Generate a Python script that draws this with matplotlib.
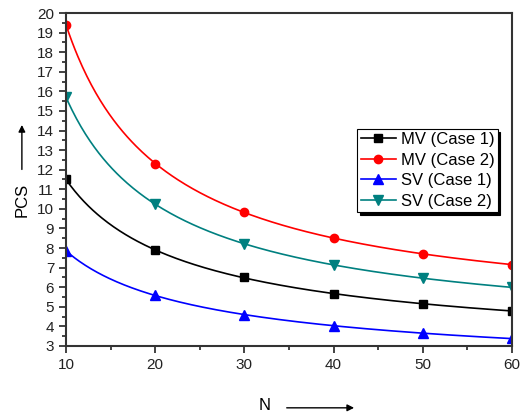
import numpy as np
import matplotlib
matplotlib.use("Agg")
import matplotlib.pyplot as plt
from matplotlib.ticker import MultipleLocator

plt.rcParams['font.family'] = ['Liberation Sans', 'DejaVu Sans']

N = [10, 20, 30, 40, 50, 60]
mv_case1 = [11.5, 7.9, 6.5, 5.65, 5.15, 4.8]
mv_case2 = [19.4, 12.3, 9.85, 8.5, 7.7, 7.15]
sv_case1 = [7.85, 5.6, 4.6, 4.0, 3.65, 3.4]
sv_case2 = [15.7, 10.25, 8.2, 7.15, 6.45, 6.0]
labels = ["MV (Case 1)", "MV (Case 2)", "SV (Case 1)", "SV (Case 2)"]
colors = ["black", "#FF0000", "#0000FF", "#008080"]
markers = ["s", "o", "^", "v"]
msizes = [5.5, 6, 7, 7]


def power_fit(x, y):
    """Least-squares fit of y = y0 + a * x**b (grid over b)."""
    x = np.asarray(x, float)
    y = np.asarray(y, float)
    best = None
    for b in np.linspace(-3, -0.05, 2000):
        M = np.column_stack([np.ones_like(x), x ** b])
        coef, *_ = np.linalg.lstsq(M, y, rcond=None)
        r = np.sum((M @ coef - y) ** 2)
        if best is None or r < best[0]:
            best = (r, b, coef)
    _, b, coef = best
    return lambda xx: coef[0] + coef[1] * np.asarray(xx, float) ** b


fig = plt.figure(figsize=(5.21, 4.17), dpi=100)
ax = fig.add_axes([0.1267, 0.1703, 0.856, 0.7985])

xs = np.linspace(min(N), max(N), 300)
for ys, lab, c, m, ms in zip([mv_case1, mv_case2, sv_case1, sv_case2], labels, colors, markers, msizes):
    f = power_fit(N, ys)
    ax.plot(xs, f(xs), color=c, lw=1.2)
    ax.plot(N, ys, linestyle='none', marker=m, color=c, markersize=ms)
    ax.plot([], [], color=c, lw=1.2, marker=m, markersize=ms, label=lab)

ax.set_xlim(10, 60)
ax.set_ylim(3, 20)
ax.xaxis.set_major_locator(MultipleLocator(10))
ax.xaxis.set_minor_locator(MultipleLocator(5))
ax.yaxis.set_major_locator(MultipleLocator(1))
ax.yaxis.set_minor_locator(MultipleLocator(0.5))
ax.tick_params(which='both', direction='out', top=False, right=False,
               labelsize=11, width=1.2, colors='#222222')
ax.tick_params(which='major', length=5)
ax.tick_params(which='minor', length=3)
for s in ax.spines.values():
    s.set_linewidth(1.5)
    s.set_color('#333333')

leg = ax.legend(loc='upper right', bbox_to_anchor=(0.968, 0.652), fontsize=12,
                frameon=True, fancybox=False, shadow={'color': 'black', 'alpha': 1},
                handlelength=2.1, handletextpad=0.3, borderpad=0.2, labelspacing=0.33,
                borderaxespad=0)
leg.get_frame().set_edgecolor('black')
leg.get_frame().set_linewidth(0.8)

fig.text(0.042, 0.52, "PCS", rotation=90, ha='center', va='center', fontsize=12)
fig.add_artist(matplotlib.patches.FancyArrowPatch(
    (0.042, 0.587), (0.042, 0.707), transform=fig.transFigure,
    arrowstyle='-|>', mutation_scale=10, lw=1, color='black'))
fig.text(0.508, 0.027, "N", ha='center', va='center', fontsize=12)
fig.add_artist(matplotlib.patches.FancyArrowPatch(
    (0.545, 0.022), (0.685, 0.022), transform=fig.transFigure,
    arrowstyle='-|>', mutation_scale=10, lw=1, color='black'))

fig.savefig("out.png", dpi=100)
